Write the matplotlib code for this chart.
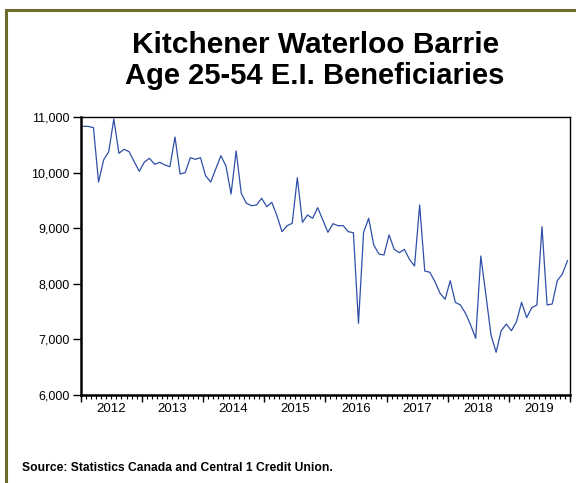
import numpy as np
import matplotlib.pyplot as plt
from matplotlib.patches import Rectangle
from matplotlib.ticker import FuncFormatter

plt.rcParams['font.family'] = ['Liberation Sans', 'DejaVu Sans']

# monthly E.I. beneficiaries, Jan 2012 - Dec 2019
start_year = 2012
beneficiaries = [
    10833, 10830, 10808, 9830, 10227, 10376, 10964, 10347, 10419, 10376, 10196, 10023,
    10191, 10257, 10149, 10185, 10137, 10106, 10640, 9975, 9998, 10268, 10239, 10268,
    9944, 9830, 10065, 10304, 10119, 9615, 10390, 9628, 9448, 9405, 9417, 9538,
    9387, 9465, 9225, 8937, 9045, 9088, 9908, 9106, 9237, 9178, 9369, 9147,
    8926, 9081, 9045, 9045, 8937, 8919, 7290, 8926, 9178, 8698, 8536, 8518,
    8880, 8620, 8560, 8620, 8440, 8320, 9417, 8230, 8207, 8038, 7829, 7721,
    8056, 7667, 7619, 7469, 7259, 7020, 8500, 7798, 7079, 6768, 7155, 7277,
    7155, 7319, 7667, 7392, 7570, 7619, 9027, 7619, 7637, 8056, 8176, 8415,
]
years = list(range(2012, 2020))

t = start_year + (np.arange(len(beneficiaries)) + 0.5) / 12.0

fig = plt.figure(figsize=(5.76, 4.83), dpi=100)
ax = fig.add_axes([0.1401, 0.1822, 0.8495, 0.5756])

ax.plot(t, beneficiaries, color='#2f4fa8', lw=0.9)

ax.set_xlim(2012, 2020)
ax.set_ylim(6000, 11000)
ax.set_yticks(np.arange(6000, 11001, 1000))
ax.yaxis.set_major_formatter(FuncFormatter(lambda v, p: f'{int(v):,}'))
ax.tick_params(axis='y', direction='out', length=6, width=1, labelsize=9, pad=2)

# year boundaries as major ticks, year names centred in between
ax.set_xticks(np.arange(2012, 2021))
ax.set_xticklabels([])
ax.set_xticks([y + 0.5 for y in years], minor=True)
ax.set_xticklabels([str(y) for y in years], minor=True)
ax.tick_params(axis='x', which='major', direction='out', length=5, width=1)
ax.tick_params(axis='x', which='minor', length=0, labelsize=9.5, pad=6)

# monthly tick marks
months = ax.secondary_xaxis('bottom')
months.set_xticks(np.arange(2012, 2020.001, 1 / 12))
months.set_xticklabels([])
months.tick_params(direction='out', length=3, width=0.8)
months.spines['bottom'].set_visible(False)

for side in ('left', 'bottom'):
    ax.spines[side].set_linewidth(1.8)
for side in ('top', 'right'):
    ax.spines[side].set_linewidth(1.0)

fig.text(0.547, 0.907, 'Kitchener Waterloo Barrie', ha='center', va='center',
         fontsize=21.5, fontweight='bold')
fig.text(0.547, 0.843, 'Age 25-54 E.I. Beneficiaries', ha='center', va='center',
         fontsize=21, fontweight='bold')
fig.text(0.038, 0.031, 'Source: Statistics Canada and Central 1 Credit Union.',
         ha='left', va='center', fontsize=8.7, fontweight='bold')

# olive frame, open to the right and bottom
fig.patches.append(Rectangle((6 / 576, -0.2), 1.2, 1.2 - 10 / 483,
                             transform=fig.transFigure, fill=False,
                             edgecolor='#6b6b2b', lw=2.2))

fig.savefig('out.png', dpi=100)
